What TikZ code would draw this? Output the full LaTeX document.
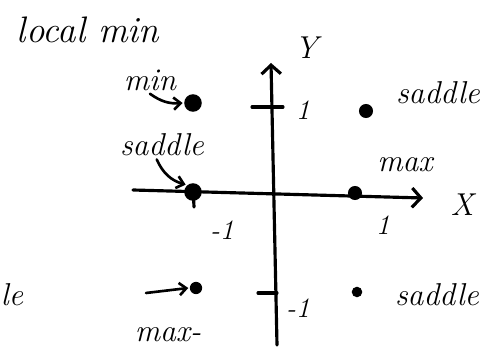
\documentclass[tikz,border=0pt]{standalone}
\usepackage{tikz}
\usetikzlibrary{arrows.meta,positioning}

\begin{document}
\begin{tikzpicture}[
    x=0.02cm, y=-0.02cm,
    line width=1.8pt, line cap=round, line join=round,
    >={Straight Barb[length=5pt,width=11pt]},
    crit/.style={
        circle, fill, inner sep=0pt, minimum size=#1
    },
    hand/.style={
        font=\fontsize{18}{20}\selectfont\itshape, inner sep=1pt
    },
    ticklab/.style={
        font=\fontsize{16}{18}\selectfont\itshape, inner sep=1pt
    },
    pointer/.style={
        -{Straight Barb[length=4pt,width=7pt]}, line width=1.5pt
    }
]
\useasboundingbox (0,0) rectangle (494,347);

% Critical points
\node[crit=10pt] (mindot) at (193,103) {};
\node[crit=10pt] (sadL)   at (193,192) {};
\node[crit=8pt]  (maxdot) at (355,193) {};
\node[crit=8pt]  (sadUR)  at (366,111) {};
\node[crit=7pt]  (maxLL)  at (196,288) {};
\node[crit=6pt]  (sadLR)  at (357,292) {};

% Axes
\coordinate (xl) at (133,190);
\coordinate (xr) at (423,198);
\coordinate (yb) at (277,345);
\coordinate (yt) at (271,63);
\draw[->] (xl) -- (xr);
\draw[->] (yb) -- (yt);
\node[hand] (xlab) at (462,205) {X};
\node[hand] (ylab) at (306,48) {Y};

% Ticks
\draw (252,107) -- (283,107);
\draw (258,293) -- (277,293);
\draw (193,186) -- (194,207);
\node[ticklab] (ty1)  at (303,110) {1};
\node[ticklab] (tym1) at (298,308) {-1};
\node[ticklab] (tx1)  at (383,225) {1};
\node[ticklab] (txm1) at (222,230) {-1};

% Labels
\node[hand, font=\fontsize{21}{23}\selectfont\itshape] (local) at (88,30) {local min};
\node[hand] (minlab)  at (150,80)  {min};
\node[hand] (sadlab)  at (162,145) {saddle};
\node[hand] (sadURlab) at (438,93) {saddle};
\node[hand] (maxlab)  at (405,165) {max};
\node[hand] (sadLRlab) at (437,295) {saddle};
\node[hand] (maxLLlab) at (168,335) {max-};
\node[hand] (cutlab)  at (12,295)  {le};

% Pointers
\coordinate (llfrom) at (146,293);
\draw[pointer] (minlab.south) to[bend right=20] (mindot.west);
\draw[pointer] (sadlab.250) to[bend right=25] (sadL.north west);
\draw[pointer] (llfrom) -- (maxLL.west);

\end{tikzpicture}
\end{document}
